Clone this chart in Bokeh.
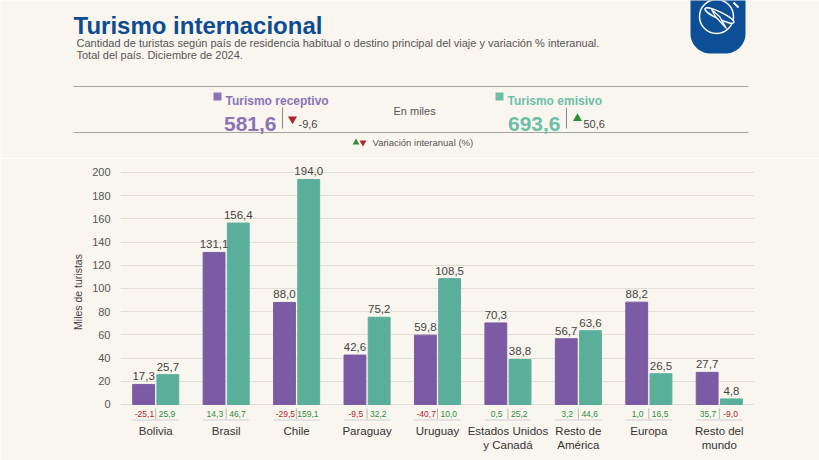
import numpy as np
from bokeh.plotting import figure
from bokeh.layouts import column
from bokeh.models import ColumnDataSource, FactorRange, Range1d, FixedTicker
from bokeh.transform import dodge
from bokeh.core.properties import value
from bokeh.embed import file_html
from bokeh.resources import INLINE

# ---------------- data ----------------
categories = ["Bolivia", "Brasil", "Chile", "Paraguay", "Uruguay",
              "Estados Unidos\ny Canadá", "Resto de\nAmérica", "Europa", "Resto del\nmundo"]
receptivo = [17.3, 131.1, 88.0, 42.6, 59.8, 70.3, 56.7, 88.2, 27.7]
emisivo = [25.7, 156.4, 194.0, 75.2, 108.5, 38.8, 63.6, 26.5, 4.8]
var_receptivo = [-25.1, 14.3, -29.5, -9.5, -40.7, 0.5, 3.2, 1.0, 35.7]
var_emisivo = [25.9, 46.7, 159.1, 32.2, 10.0, 25.2, 44.6, 16.5, -9.0]
y_ticks = [0, 20, 40, 60, 80, 100, 120, 140, 160, 180, 200]

total_receptivo = 581.6
var_total_receptivo = -9.6
total_emisivo = 693.6
var_total_emisivo = 50.6

title = "Turismo internacional"
subtitle1 = "Cantidad de turistas según país de residencia habitual o destino principal del viaje y variación % interanual."
subtitle2 = "Total del país. Diciembre de 2024."

# ---------------- styles ----------------
BG = "#f9f6f0"
PURPLE = "#7a5ba4"
TEAL = "#5aaf9a"
PURPLE_L = "#8b73b6"
TEAL_L = "#6dbfaa"
BLUE = "#0e4c92"
RED = "#b5232a"
GREEN = "#2e8b3a"
SANS = "Liberation Sans"


def fmt(v):
    return f"{v:.1f}".replace(".", ",")


# ---------------- header ----------------
HW, HH = 819, 158
h = figure(width=HW, height=HH, x_range=Range1d(0, HW), y_range=Range1d(HH, 0),
           output_backend="svg", toolbar_location=None, min_border=0,
           background_fill_color=BG, border_fill_color=BG, outline_line_color=None)
h.axis.visible = False
h.grid.visible = False
h.frame_align = False

h.text(x=[73], y=[25], text=[title], text_font=value(SANS), text_font_style="bold",
       text_font_size=value("24px"), text_color=BLUE, text_baseline="alphabetic")
h.text(x=[76, 76], y=[42, 54], text=[subtitle1, subtitle2], text_font=value(SANS),
       text_font_size=value("11px"), text_color="#555555", text_baseline="alphabetic")

h.segment(x0=[73, 73], y0=[86, 132], x1=[748, 748], y1=[86, 132], line_color="#a5a5a5", line_width=1)

# legend / totals
h.scatter(x=[217, 499], y=[96, 96], marker="square", size=8,
          fill_color=[PURPLE_L, TEAL_L], line_color=None)
h.text(x=[225, 507], y=[100, 100], text=["Turismo receptivo", "Turismo emisivo"],
       text_font=value(SANS), text_font_style="bold", text_font_size=value("12px"),
       text_color=[PURPLE_L, TEAL_L], text_baseline="alphabetic")
h.text(x=[276, 560], y=[123, 123], text=[fmt(total_receptivo), fmt(total_emisivo)],
       text_font=value(SANS), text_font_style="bold", text_font_size=value("21px"),
       text_color=[PURPLE_L, TEAL_L], text_baseline="alphabetic", text_align="right")
h.segment(x0=[282, 566], y0=[107, 107], x1=[282, 566], y1=[128, 128], line_color="#888888", line_width=1)
h.scatter(x=[292], y=[118.5], marker="inverted_triangle", size=9, fill_color=RED, line_color=None)
h.scatter(x=[577], y=[118], marker="triangle", size=9, fill_color=GREEN, line_color=None)
h.text(x=[298, 583], y=[123, 123], text=[fmt(var_total_receptivo), fmt(var_total_emisivo)],
       text_font=value(SANS), text_font_size=value("11px"), text_color="#444444",
       text_baseline="alphabetic")
h.text(x=[393], y=[110], text=["En miles"], text_font=value(SANS), text_font_size=value("11px"),
       text_color="#555555", text_baseline="middle")

# variation key
h.scatter(x=[355.5], y=[142], marker="triangle", size=7, fill_color=GREEN, line_color=None)
h.scatter(x=[362.5], y=[142], marker="inverted_triangle", size=7, fill_color=RED, line_color=None)
h.text(x=[372], y=[142], text=["Variación interanual (%)"], text_font=value(SANS),
       text_font_size=value("9.5px"), text_color="#555555", text_baseline="middle")

# logo
lx0, lx1, ltop, lbot, lr = 690, 745, -2, 53, 20
t1 = np.linspace(0, np.pi / 2, 20)
t2 = np.linspace(np.pi / 2, np.pi, 20)
px = [lx0, lx1] + list(lx1 - lr + lr * np.cos(t1)) + list(lx0 + lr + lr * np.cos(t2))
py = [ltop, ltop] + list(lbot - lr + lr * np.sin(t1)) + list(lbot - lr + lr * np.sin(t2))
h.patch(px, py, fill_color="#0c4f97", line_color=None)
h.circle(x=[716], y=[16], radius=17, fill_color=None, line_color="white", line_width=1.5)
h.ellipse(x=[719], y=[15], width=32, height=7, angle=-0.45, fill_color="#0c4f97",
          line_color="white", line_width=1.5)
h.patch([711, 719, 726, 715], [9, 16, 28, 16], fill_color="#0c4f97", line_color="white", line_width=1.3)
h.segment(x0=[733], y0=[2], x1=[738], y1=[7], line_color="white", line_width=2)

# ---------------- chart ----------------
src = ColumnDataSource(dict(
    cat=categories,
    rec=receptivo,
    emi=emisivo,
    rec_lbl=[fmt(v) for v in receptivo],
    emi_lbl=[fmt(v) for v in emisivo],
    vr_lbl=[fmt(v) for v in var_receptivo],
    ve_lbl=[fmt(v) for v in var_emisivo],
    vr_col=[RED if v < 0 else GREEN for v in var_receptivo],
    ve_col=[RED if v < 0 else GREEN for v in var_emisivo],
))

p = figure(width=819, height=302, x_range=FactorRange(*categories),
           y_range=Range1d(-14.66, 208.62), output_backend="svg", toolbar_location=None,
           min_border_left=120, min_border_right=65, min_border_top=4, min_border_bottom=39,
           background_fill_color=BG, border_fill_color=BG, outline_line_color=None)
p.frame_align = False

off, bw = 0.172, 0.31
p.vbar(x=dodge("cat", -off, range=p.x_range), top="rec", width=bw, color=PURPLE, source=src)
p.vbar(x=dodge("cat", off, range=p.x_range), top="emi", width=bw, color=TEAL, source=src)

for o, col, lbl in [(-off, "rec", "rec_lbl"), (off, "emi", "emi_lbl")]:
    p.text(x=dodge("cat", o, range=p.x_range), y=col, text=lbl, source=src,
           text_align="center", text_baseline="alphabetic", y_offset=-8,
           text_font=value(SANS), text_font_size=value("11.5px"), text_color="#444444")

p.text(x=dodge("cat", -0.16, range=p.x_range), y=-8.2, text="vr_lbl", text_color="vr_col",
       source=src, text_align="center", text_baseline="middle",
       text_font=value(SANS), text_font_size=value("8.5px"))
p.text(x=dodge("cat", 0.16, range=p.x_range), y=-8.2, text="ve_lbl", text_color="ve_col",
       source=src, text_align="center", text_baseline="middle",
       text_font=value(SANS), text_font_size=value("8.5px"))
p.segment(x0=dodge("cat", 0, range=p.x_range), y0=-3.4, x1=dodge("cat", 0, range=p.x_range),
          y1=-12.9, source=src, line_color="#b8b8b8", line_width=1)
p.segment(x0=dodge("cat", -0.33, range=p.x_range), y0=-13.4, x1=dodge("cat", 0.33, range=p.x_range),
          y1=-13.4, source=src, line_color="#cfcfcf", line_width=1)

p.xgrid.grid_line_color = None
p.ygrid.grid_line_color = "#e2ded6"
p.yaxis.ticker = FixedTicker(ticks=y_ticks)
p.yaxis.axis_line_color = None
p.yaxis.major_tick_line_color = None
p.yaxis.minor_tick_line_color = None
p.yaxis.major_tick_out = 0
p.yaxis.major_tick_in = 0
p.yaxis.minor_tick_out = 0
p.yaxis.major_label_standoff = 10
p.yaxis.major_label_text_font = SANS
p.yaxis.major_label_text_font_size = "11px"
p.yaxis.major_label_text_color = "#555555"
p.yaxis.axis_label = "Miles de turistas"
p.yaxis.axis_label_standoff = 5
p.yaxis.axis_label_text_font = SANS
p.yaxis.axis_label_text_font_style = "normal"
p.yaxis.axis_label_text_font_size = "10.5px"
p.yaxis.axis_label_text_color = "#444444"

p.xaxis.axis_line_color = None
p.xaxis.major_tick_line_color = None
p.xaxis.major_tick_out = 0
p.xaxis.major_tick_in = 0
p.xaxis.major_label_standoff = 3
p.xaxis.major_label_text_font = SANS
p.xaxis.major_label_text_font_size = "11.5px"
p.xaxis.major_label_text_color = "#333333"

layout = column(h, p, spacing=0)
open("out.html", "w").write(file_html(layout, INLINE))
